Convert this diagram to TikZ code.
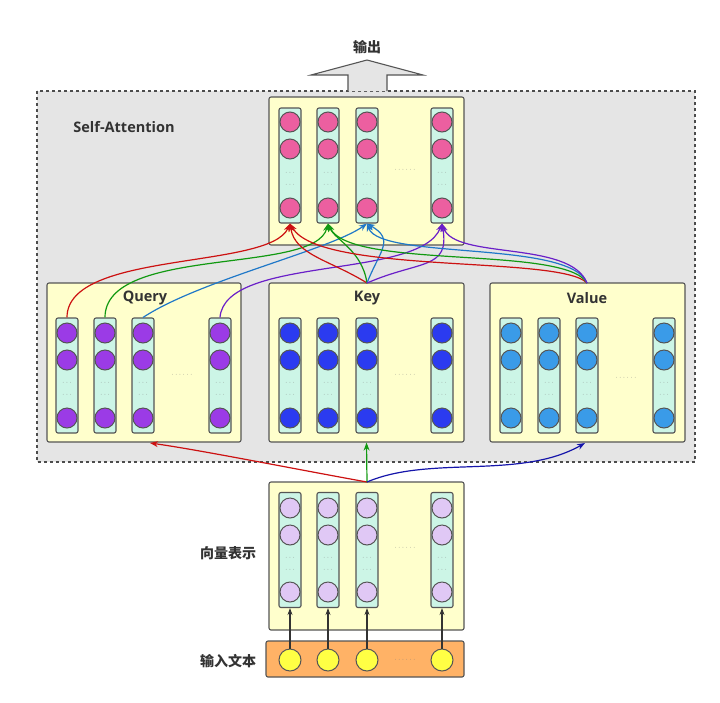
\documentclass[tikz,border=0pt]{standalone}
\usepackage{fontspec}
\setmainfont{Open Sans}
\newfontfamily\cjk{Noto Sans CJK SC}
\usetikzlibrary{arrows.meta,positioning}
\definecolor{boxfill}{HTML}{FFFFCC}
\definecolor{colfill}{HTML}{CCF5E6}
\definecolor{edge}{HTML}{555555}
\definecolor{qcol}{HTML}{9B3BE6}
\definecolor{kcol}{HTML}{2B3BF0}
\definecolor{vcol}{HTML}{3A9BE8}
\definecolor{ocol}{HTML}{EC5FA0}
\definecolor{ecol}{HTML}{E0C8F5}
\definecolor{icol}{HTML}{FFFF44}
\definecolor{ared}{HTML}{CC1111}
\definecolor{agreen}{HTML}{119911}
\definecolor{ablue}{HTML}{1F78C8}
\definecolor{apurple}{HTML}{6A1FC8}
\definecolor{anavy}{HTML}{1515AA}
\tikzset{
  panel/.style={draw=edge, fill=boxfill, rounded corners=2pt, line width=1.1pt},
  colbox/.style={draw=edge, fill=colfill, rounded corners=2pt, line width=1.1pt,
    minimum width=22pt, inner sep=0pt},
  unit/.style={circle, draw=edge, line width=1pt, minimum size=20pt, inner sep=0pt},
  title/.style={font=\bfseries\fontsize{14.5}{17}\selectfont, text=black!80},
  cjktitle/.style={title, font=\cjk\bfseries\fontsize{14}{17}\selectfont},
  vdots/.style={font=\scriptsize, text=black!50},
  flow/.style={line width=1.2pt, -{Stealth[length=8pt,width=6pt]}},
}
\begin{document}
\begin{tikzpicture}[x=1pt,y=-1pt]
  \useasboundingbox (0,0) rectangle (720,702);
  % attention frame
  \draw[dashed, fill=black!10, draw=black!70, line width=1.1pt] (37,91) rectangle (695,462);
  \node[title] (selfatt) at (124,127) {Self-Attention};
  % output arrow
  \draw[fill=black!10, draw=edge, line width=1.1pt]
    (348,91) -- (348,75) -- (311,75) -- (367,60) -- (423,75) -- (387,75) -- (387,91);
  \node[cjktitle] (out) at (367,47) {输出};

  % panels
  \node[panel, minimum width=195pt, minimum height=148pt] (opanel) at (366.5,171) {};
  \node[panel, minimum width=194pt, minimum height=159pt] (qpanel) at (144,362.5) {};
  \node[panel, minimum width=195pt, minimum height=159pt] (kpanel) at (366.5,362.5) {};
  \node[panel, minimum width=195pt, minimum height=159pt] (vpanel) at (587.5,362.5) {};
  \node[panel, minimum width=195pt, minimum height=148pt] (epanel) at (366.5,556) {};
  \node[panel, fill=orange!60, minimum width=198pt, minimum height=36pt] (ipanel) at (365,659) {};
  \node[title] at (145,298) {Query};
  \node[title] at (367,298) {Key};
  \node[title] at (587,298) {Value};
  \node[cjktitle] (elabel) at (228,553) {向量表示};
  \node[cjktitle] (ilabel) at (228,661) {输入文本};

  % columns of units
  \foreach \p/\c/\ya/\yb/\yc/\cy/\x in {%
      o/ocol/122/149/208/165.5/290, o/ocol/122/149/208/165.5/328, o/ocol/122/149/208/165.5/367, o/ocol/122/149/208/165.5/442,
      q/qcol/333/360/418/375.5/67, q/qcol/333/360/418/375.5/105, q/qcol/333/360/418/375.5/143, q/qcol/333/360/418/375.5/220,
      k/kcol/333/360/418/375.5/290, k/kcol/333/360/418/375.5/328, k/kcol/333/360/418/375.5/367, k/kcol/333/360/418/375.5/442,
      v/vcol/333/360/418/375.5/511, v/vcol/333/360/418/375.5/549, v/vcol/333/360/418/375.5/587, v/vcol/333/360/418/375.5/664,
      e/ecol/508/535/592/550/290, e/ecol/508/535/592/550/328, e/ecol/508/535/592/550/367, e/ecol/508/535/592/550/442} {
    \node[colbox, minimum height=115pt] (\p\x) at (\x,\cy) {};
    \node[unit, fill=\c] at (\x,\ya) {};
    \node[unit, fill=\c] at (\x,\yb) {};
    \node[unit, fill=\c] at (\x,\yc) {};
    \node[vdots] at (\x,{(\yb+\yc)/2-6}) {$\cdots$};
    \node[vdots] at (\x,{(\yb+\yc)/2+6}) {$\cdots$};
  }
  \foreach \x/\y in {405/170, 182/375, 405/375, 626/378, 405/548, 405/660}
    \node[vdots] at (\x,\y) {$\cdots\cdots$};

  % input tokens
  \foreach \x in {290,328,367,442} {
    \node[unit, fill=icol, minimum size=22pt] (i\x) at (\x,660) {};
    \draw[line width=1.1pt, draw=black!80, -{Stealth[length=7pt,width=5pt]}] (i\x.north) -- (e\x.south);
  }

  % embeddings to Q, K, V
  \coordinate (etop) at (367,482);
  \draw[flow, ared] (etop) .. controls (300,470) and (200,450) .. (150,443);
  \draw[flow, agreen] (etop) -- (kpanel.south);
  \draw[flow, anavy] (etop) .. controls (430,455) and (520,480) .. (585,443);

  % queries
  \draw[flow, ared] (q67.north) .. controls (67,250) and (270,270) .. (o290.south);
  \draw[flow, agreen] (q105.north) .. controls (105,245) and (315,275) .. (o328.south);
  \draw[flow, ablue] (q143.north) .. controls (200,280) and (330,250) .. (o367.south);
  \draw[flow, apurple] (q220.north) .. controls (225,255) and (420,280) .. (o442.south);
  % keys
  \coordinate (ktop) at (367,283);
  \draw[flow, ared] (ktop) .. controls (330,260) and (295,255) .. (o290.south);
  \draw[flow, agreen] (ktop) .. controls (362,250) and (335,240) .. (o328.south);
  \draw[flow, ablue] (ktop) .. controls (380,250) and (395,240) .. (o367.south);
  \draw[flow, apurple] (ktop) .. controls (420,260) and (450,270) .. (o442.south);
  % values
  \coordinate (vtop) at (587,283);
  \draw[flow, ared] (vtop) .. controls (560,255) and (320,275) .. (o290.south);
  \draw[flow, agreen] (vtop) .. controls (565,245) and (350,270) .. (o328.south);
  \draw[flow, ablue] (vtop) .. controls (570,240) and (380,260) .. (o367.south);
  \draw[flow, apurple] (vtop) .. controls (570,240) and (455,260) .. (o442.south);
\end{tikzpicture}
\end{document}
